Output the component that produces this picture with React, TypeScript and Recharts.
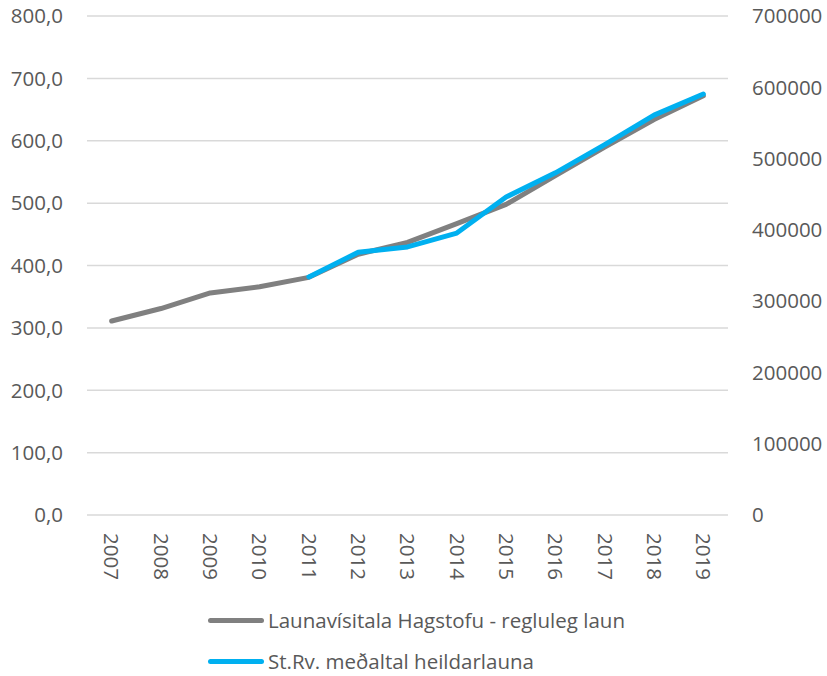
import { CartesianGrid, ComposedChart, Line, XAxis, YAxis } from 'recharts'

const years = ['2007', '2008', '2009', '2010', '2011', '2012', '2013', '2014', '2015', '2016', '2017', '2018', '2019']

// Launavísitala Hagstofu (left axis)
const indexValues = [311, 331, 356, 366, 381, 418, 437, 467, 498, 544, 590, 634, 672]

// St.Rv. meðaltal heildarlauna (right axis), no data before 2011
const payValues: (number | null)[] = [
  null, null, null, null, 334000, 368500, 376000, 395500, 446000, 480000, 519500, 561000, 590500,
]

const leftTicks = [0, 100, 200, 300, 400, 500, 600, 700, 800]
const rightTicks = [0, 100000, 200000, 300000, 400000, 500000, 600000, 700000]

const GREY = '#808080'
const BLUE = '#00b0f0'
const TEXT = '#595959'
const FONT = '"Open Sans", "Noto Sans", sans-serif'
const FONT_SIZE = 20.5

const data = years.map((year, i) => ({ year, index: indexValues[i], pay: payValues[i] }))

const fmtLeft = (v: number) => v.toFixed(1).replace('.', ',')

function YearTick(props: any) {
  const { x, y, payload } = props
  return (
    <text
      x={x}
      y={y}
      transform={`rotate(90, ${x}, ${y})`}
      textAnchor="start"
      dy="0.35em"
      fill={TEXT}
      fontSize={FONT_SIZE}
      fontFamily={FONT}
    >
      {payload.value}
    </text>
  )
}

const legendItems = [
  { label: 'Launavísitala Hagstofu - regluleg laun', color: GREY, top: 620 },
  { label: 'St.Rv. meðaltal heildarlauna', color: BLUE, top: 661 },
]

export default function App() {
  const tickStyle = { fill: TEXT, fontSize: FONT_SIZE, fontFamily: FONT }
  return (
    <div style={{ position: 'absolute', left: 0, top: 0, width: 827, height: 676, background: '#fff', fontFamily: FONT, overflow: 'hidden' }}>
      <ComposedChart width={827} height={600} data={data} margin={{ top: 16, right: 0, bottom: 0, left: 0 }}>
        <CartesianGrid yAxisId="left" vertical={false} stroke="#d9d9d9" strokeWidth={1.5} />
        <XAxis
          dataKey="year"
          scale="band"
          height={85}
          axisLine={false}
          tickLine={false}
          tickSize={0}
          tickMargin={18}
          interval={0}
          tick={<YearTick />}
        />
        <YAxis
          yAxisId="left"
          width={87}
          domain={[0, 800]}
          ticks={leftTicks}
          tickFormatter={fmtLeft}
          axisLine={false}
          tickLine={false}
          tickSize={0}
          tickMargin={24}
          tick={tickStyle}
        />
        <YAxis
          yAxisId="right"
          orientation="right"
          width={99}
          domain={[0, 700000]}
          ticks={rightTicks}
          axisLine={false}
          tickLine={false}
          tickSize={0}
          tickMargin={24}
          tick={{ ...tickStyle, textAnchor: 'start' }}
        />
        <Line
          yAxisId="left"
          type="linear"
          dataKey="index"
          stroke={GREY}
          strokeWidth={5}
          strokeLinecap="round"
          strokeLinejoin="round"
          dot={false}
          isAnimationActive={false}
        />
        <Line
          yAxisId="right"
          type="linear"
          dataKey="pay"
          stroke={BLUE}
          strokeWidth={5}
          strokeLinecap="round"
          strokeLinejoin="round"
          dot={false}
          isAnimationActive={false}
        />
      </ComposedChart>
      {legendItems.map((item) => (
        <div
          key={item.label}
          style={{ position: 'absolute', left: 208, top: item.top - 11, height: 22, display: 'flex', alignItems: 'center' }}
        >
          <span style={{ display: 'inline-block', width: 56, height: 5, borderRadius: 3, background: item.color }} />
          <span
            style={{
              display: 'inline-block',
              height: 22,
              lineHeight: '22px',
              marginLeft: 4,
              fontSize: FONT_SIZE,
              color: TEXT,
              whiteSpace: 'nowrap',
            }}
          >
            {item.label}
          </span>
        </div>
      ))}
    </div>
  )
}
